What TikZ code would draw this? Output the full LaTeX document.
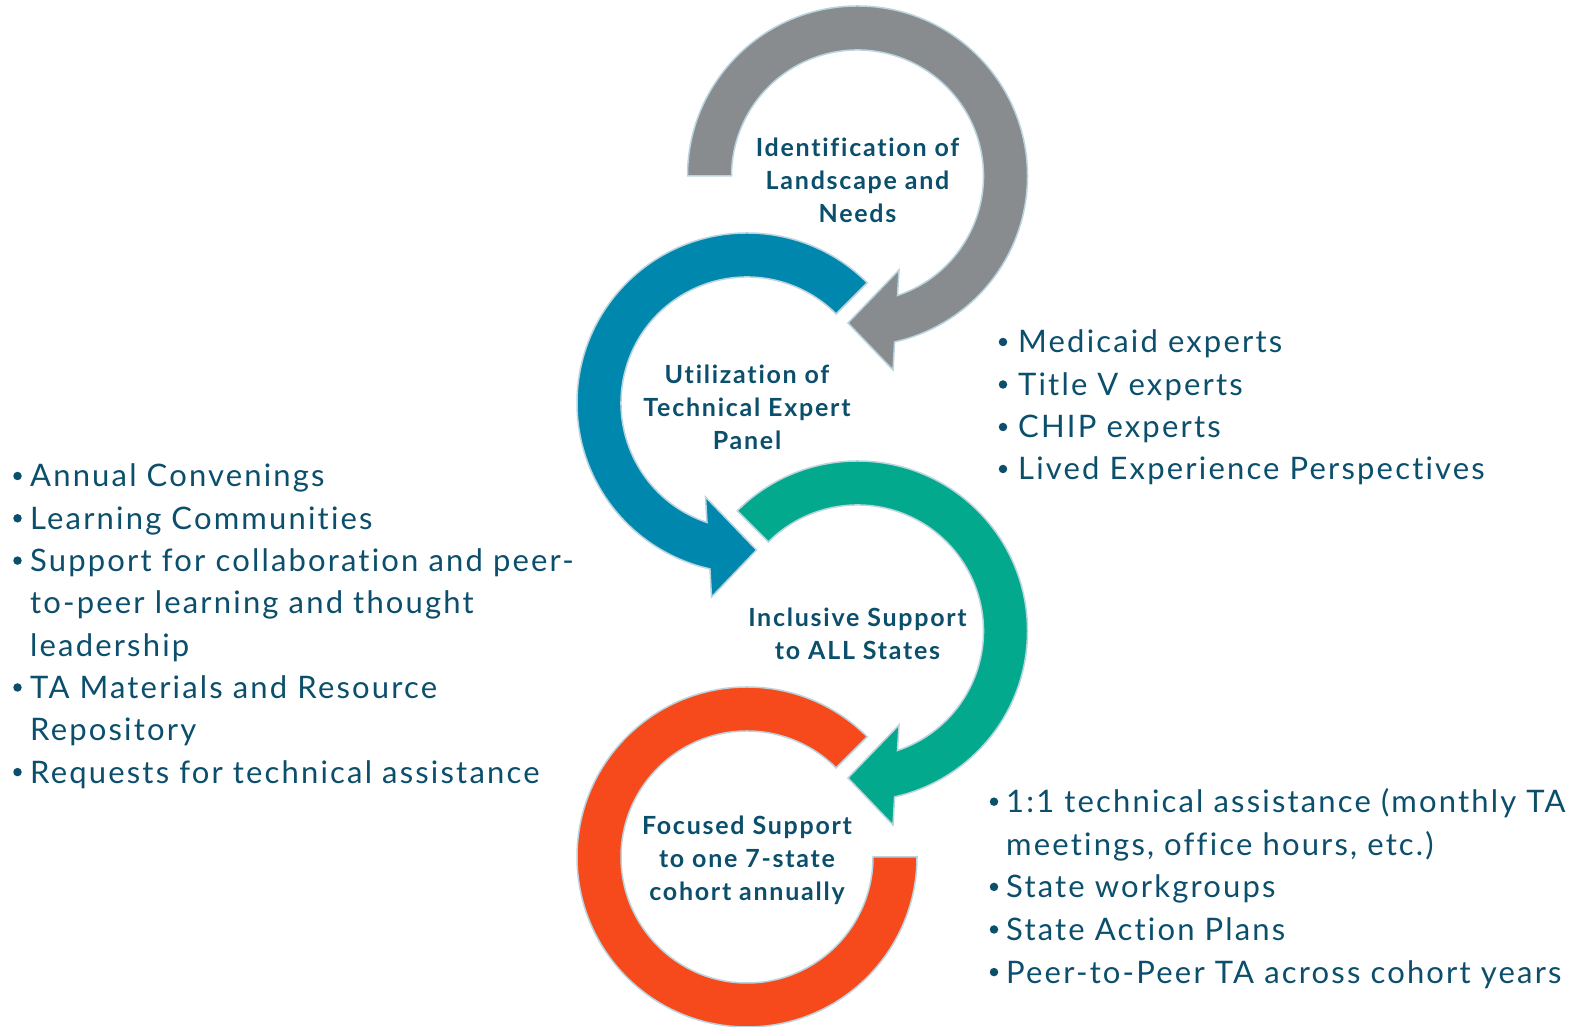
\documentclass[tikz,border=0pt]{standalone}
\usepackage{fontspec}
\setmainfont{Lato}[LetterSpace=7, Ligatures=NoCommon]
\definecolor{txt}{HTML}{0B4F6C}
\definecolor{ringgray}{HTML}{898C8E}
\definecolor{ringblue}{HTML}{0087AD}
\definecolor{ringteal}{HTML}{02A98C}
\definecolor{ringred}{HTML}{F74A1C}
\definecolor{rimline}{HTML}{B9D4DE}
\tikzset{
  ring/.style={draw=rimline, line width=1.5pt, line join=miter},
  lbl/.style={text=txt, font=\fontsize{25}{33}\selectfont\bfseries, align=center, inner sep=0pt},
  item/.style={text=txt, font=\fontsize{31}{42}\selectfont, anchor=base west, inner sep=0pt},
  dot/.style={circle, fill=txt, inner sep=0pt, minimum size=8.5pt},
}
\begin{document}
\begin{tikzpicture}[x=1pt,y=1pt]
\useasboundingbox (0,0) rectangle (1588,1027);
\coordinate (G) at (857.5,851);
\coordinate (B) at (747,624);
\coordinate (T) at (857.5,396);
\coordinate (R) at (747,170);

% gray ring
\begin{scope}[shift={(G)}]
\path[ring, fill=ringgray] (180:126) -- (180:170) arc[start angle=180, end angle=-77.4, radius=170]
  -- (35.5,-194) -- (-9.5,-147) -- (41.5,-94) -- (-71.5:126)
  arc[start angle=-71.5, end angle=180, radius=126] -- cycle;
\end{scope}
% blue ring
\begin{scope}[shift={(B)}]
\path[ring, fill=ringblue] (45:126) -- (45:170) arc[start angle=45, end angle=257.4, radius=170]
  -- (-35.5,-194) -- (9.5,-147) -- (-41.5,-94) -- (251.5:126)
  arc[start angle=251.5, end angle=45, radius=126] -- cycle;
\end{scope}
% teal ring
\begin{scope}[shift={(T)}]
\path[ring, fill=ringteal] (135:126) -- (135:170) arc[start angle=135, end angle=-77.4, radius=170]
  -- (35.5,-194) -- (-9.5,-147) -- (41.5,-94) -- (-71.5:126)
  arc[start angle=-71.5, end angle=135, radius=126] -- cycle;
\end{scope}
% red ring
\begin{scope}[shift={(R)}]
\path[ring, fill=ringred] (45:126) -- (45:170) arc[start angle=45, end angle=360, radius=170]
  -- (0:126) arc[start angle=360, end angle=45, radius=126] -- cycle;
\end{scope}

% ring labels
\node[lbl] (lg) at (857.5,847) {Identification of\\Landscape and\\Needs};
\node[lbl] (lb) at (747,620) {Utilization of\\Technical Expert\\Panel};
\node[lbl] (lt) at (857.5,393.5) {Inclusive Support\\to ALL States};
\node[lbl] (lr) at (747,167) {Focused Support\\to one 7-state\\cohort annually};

% right top list
\node[dot] (d1) at (1003,685) {};
\node[item] (t1) at (1018,674) {Medicaid experts};
\node[dot] (d2) at (1003,642.5) {};
\node[item] (t2) at (1018,631.5) {Title V experts};
\node[dot] (d3) at (1003,600) {};
\node[item] (t3) at (1018,589) {CHIP experts};
\node[dot] (d4) at (1003,558) {};
\node[item] (t4) at (1018,547) {Lived Experience Perspectives};

% left list
\node[dot] (e1) at (17.5,551) {};
\node[item] (s1) at (30,540) {Annual Convenings};
\node[dot] (e2) at (17.5,508.7) {};
\node[item] (s2) at (30,497.7) {Learning Communities};
\node[dot] (e3) at (17.5,466.4) {};
\node[item] (s3) at (30,455.4) {Support for collaboration and peer-};
\node[item] (s4) at (30,413.1) {to-peer learning and thought};
\node[item] (s5) at (30,370.8) {leadership};
\node[dot] (e6) at (17.5,339.5) {};
\node[item] (s6) at (30,328.5) {TA Materials and Resource};
\node[item] (s7) at (30,286.2) {Repository};
\node[dot] (e8) at (17.5,254.9) {};
\node[item] (s8) at (30,243.9) {Requests for technical assistance};

% bottom right list
\node[dot] (f1) at (994,225.3) {};
\node[item] (u1) at (1006,214.3) {1:1 technical assistance (monthly TA};
\node[item] (u2) at (1006,171.7) {meetings, office hours, etc.)};
\node[dot] (f3) at (994,140.1) {};
\node[item] (u3) at (1006,129.1) {State workgroups};
\node[dot] (f4) at (994,97.5) {};
\node[item] (u4) at (1006,86.5) {State Action Plans};
\node[dot] (f5) at (994,54.9) {};
\node[item] (u5) at (1006,43.9) {Peer-to-Peer TA across cohort years};
\end{tikzpicture}
\end{document}
